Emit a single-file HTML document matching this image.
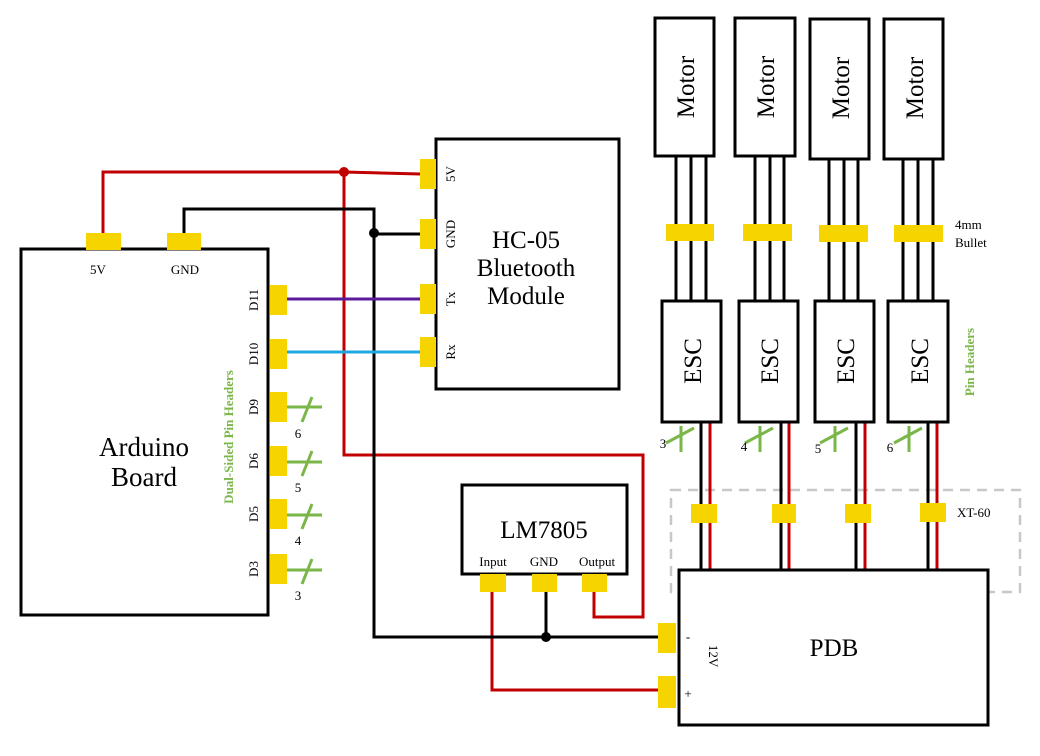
<!DOCTYPE html>
<html><head><meta charset="utf-8"><style>
html,body{margin:0;padding:0;background:#fff}
svg{display:block;font-family:"Liberation Serif",serif}
</style></head><body>
<svg width="1040" height="756" viewBox="0 0 1040 756" xmlns="http://www.w3.org/2000/svg">
<g fill="none" stroke-linejoin="miter">
<rect x="671" y="490" width="349" height="102" stroke="#c8c8c8" stroke-width="2.5" stroke-dasharray="10,7"/>
<polyline points="103,233 103,172 344,172 420,174" stroke="#c00000" stroke-width="3"/>
<polyline points="344,172 344,455 643,455 643,617 594,617 594,590" stroke="#c00000" stroke-width="3"/>
<polyline points="492,590 492,690 660,690" stroke="#c00000" stroke-width="3"/>
<polyline points="184,233 184,209 374,209 374,637 660,637" stroke="#000" stroke-width="3"/>
<line x1="374" y1="234" x2="420" y2="234" stroke="#000" stroke-width="3"/>
<line x1="546" y1="590" x2="546" y2="637" stroke="#000" stroke-width="3"/>
<line x1="287" y1="299" x2="420" y2="299" stroke="#5a1a9a" stroke-width="3"/>
<line x1="287" y1="352" x2="420" y2="352" stroke="#1ea8e0" stroke-width="3"/>
<g stroke="#000" stroke-width="3">
<line x1="676" y1="156" x2="676" y2="301"/><line x1="691" y1="156" x2="691" y2="301"/><line x1="706" y1="156" x2="706" y2="301"/>
<line x1="755" y1="156" x2="755" y2="301"/><line x1="770" y1="156" x2="770" y2="301"/><line x1="784" y1="156" x2="784" y2="301"/>
<line x1="829" y1="159" x2="829" y2="301"/><line x1="844" y1="159" x2="844" y2="301"/><line x1="858" y1="159" x2="858" y2="301"/>
<line x1="903" y1="159" x2="903" y2="301"/><line x1="918" y1="159" x2="918" y2="301"/><line x1="933" y1="159" x2="933" y2="301"/>
<line x1="701" y1="422" x2="701" y2="570"/><line x1="781" y1="422" x2="781" y2="570"/><line x1="856" y1="422" x2="856" y2="570"/><line x1="928" y1="422" x2="928" y2="570"/>
</g>
<g stroke="#c00000" stroke-width="3">
<line x1="710" y1="422" x2="710" y2="570"/><line x1="789" y1="422" x2="789" y2="570"/><line x1="865" y1="422" x2="865" y2="570"/><line x1="937" y1="422" x2="937" y2="570"/>
</g>
<g stroke="#7ab648" stroke-width="3">
<line x1="287" y1="407" x2="322" y2="407"/><line x1="302" y1="422" x2="312" y2="397"/>
<line x1="287" y1="462" x2="322" y2="462"/><line x1="302" y1="476" x2="312" y2="451"/>
<line x1="287" y1="515" x2="322" y2="515"/><line x1="302" y1="529" x2="312" y2="504"/>
<line x1="287" y1="570" x2="322" y2="570"/><line x1="302" y1="584" x2="312" y2="559"/>
<line x1="681" y1="426" x2="681" y2="452"/><line x1="666" y1="443" x2="694" y2="428"/>
<line x1="760" y1="426" x2="760" y2="452"/><line x1="745" y1="443" x2="773" y2="428"/>
<line x1="835" y1="426" x2="835" y2="452"/><line x1="820" y1="443" x2="848" y2="428"/>
<line x1="909" y1="426" x2="909" y2="452"/><line x1="894" y1="443" x2="922" y2="428"/>
</g>
<g stroke="#000" stroke-width="3" fill="#fff">
<rect x="21" y="249" width="247" height="366"/>
<rect x="436" y="139" width="183" height="250"/>
<rect x="462" y="485" width="165" height="89"/>
<rect x="679" y="570" width="309" height="155"/>
<rect x="655" y="18" width="59" height="138"/>
<rect x="735" y="18" width="60" height="138"/>
<rect x="810" y="19" width="59" height="140"/>
<rect x="884" y="19" width="59" height="140"/>
<rect x="662" y="301" width="59" height="121"/>
<rect x="739" y="301" width="59" height="121"/>
<rect x="815" y="301" width="59" height="121"/>
<rect x="888" y="301" width="60" height="121"/>
</g>
</g>
<circle cx="344" cy="172" r="5" fill="#c00000"/>
<circle cx="374" cy="233" r="5" fill="#000"/>
<circle cx="546" cy="637" r="5" fill="#000"/>
<g fill="#f5d400">
<rect x="86" y="233" width="35" height="17"/><rect x="167" y="233" width="34" height="17"/>
<rect x="270" y="285" width="17" height="30"/><rect x="270" y="339" width="17" height="30"/>
<rect x="270" y="392" width="17" height="30"/><rect x="270" y="446" width="17" height="30"/>
<rect x="270" y="499" width="17" height="30"/><rect x="270" y="554" width="17" height="30"/>
<rect x="420" y="159" width="16" height="30"/><rect x="420" y="219" width="16" height="30"/>
<rect x="420" y="284" width="16" height="30"/><rect x="420" y="337" width="16" height="30"/>
<rect x="480" y="574" width="26" height="18"/><rect x="532" y="574" width="25" height="18"/><rect x="582" y="574" width="25" height="18"/>
<rect x="658" y="623" width="18" height="30"/><rect x="658" y="676" width="18" height="32"/>
<rect x="666" y="224" width="48" height="17"/><rect x="743" y="224" width="49" height="17"/>
<rect x="819" y="225" width="49" height="17"/><rect x="894" y="225" width="49" height="17"/>
<rect x="691" y="504" width="26" height="19"/><rect x="772" y="504" width="24" height="19"/>
<rect x="845" y="504" width="26" height="19"/><rect x="920" y="503" width="26" height="19"/>
</g>
<g fill="#000" font-size="13">
<text x="98" y="274" text-anchor="middle">5V</text>
<text x="185" y="274" text-anchor="middle">GND</text>
<text x="298" y="438" text-anchor="middle">6</text><text x="298" y="492" text-anchor="middle">5</text>
<text x="298" y="545" text-anchor="middle">4</text><text x="298" y="600" text-anchor="middle">3</text>
<text x="663" y="448" text-anchor="middle">3</text><text x="744" y="451" text-anchor="middle">4</text>
<text x="818" y="453" text-anchor="middle">5</text><text x="890" y="452" text-anchor="middle">6</text>
<text x="955" y="229">4mm</text><text x="955" y="247">Bullet</text>
<text x="957" y="517">XT-60</text>
<text x="493" y="566" text-anchor="middle">Input</text>
<text x="544" y="566" text-anchor="middle">GND</text>
<text x="597" y="566" text-anchor="middle">Output</text>
<text x="688" y="641" text-anchor="middle">-</text>
<text x="688" y="698" text-anchor="middle">+</text>
<text transform="translate(709,656) rotate(90)" text-anchor="middle">12V</text>
<g transform="rotate(-90)" text-anchor="middle">
<text x="-300" y="258">D11</text><text x="-354" y="258">D10</text><text x="-407" y="258">D9</text>
<text x="-461" y="258">D6</text><text x="-514" y="258">D5</text><text x="-569" y="258">D3</text>
<text x="-174" y="455">5V</text><text x="-234" y="455">GND</text><text x="-299" y="455">Tx</text><text x="-352" y="455">Rx</text>
</g>
</g>
<g fill="#7ab648" font-size="13" font-weight="bold" transform="rotate(-90)" text-anchor="middle">
<text x="-437" y="233">Dual-Sided Pin Headers</text>
<text x="-362" y="974">Pin Headers</text>
</g>
<g fill="#000" font-size="25" text-anchor="middle">
<text x="144" y="456" font-size="27">Arduino</text><text x="144" y="486" font-size="27">Board</text>
<text x="526" y="248">HC-05</text><text x="526" y="276">Bluetooth</text><text x="526" y="304">Module</text>
<text x="544" y="538">LM7805</text>
<text x="834" y="656">PDB</text>
<g transform="rotate(-90)">
<text x="-87" y="694">Motor</text><text x="-87" y="774">Motor</text><text x="-88" y="849">Motor</text><text x="-88" y="923">Motor</text>
<text x="-361" y="701">ESC</text><text x="-361" y="778">ESC</text><text x="-361" y="854">ESC</text><text x="-361" y="928">ESC</text>
</g>
</g>
</svg>
</body></html>
